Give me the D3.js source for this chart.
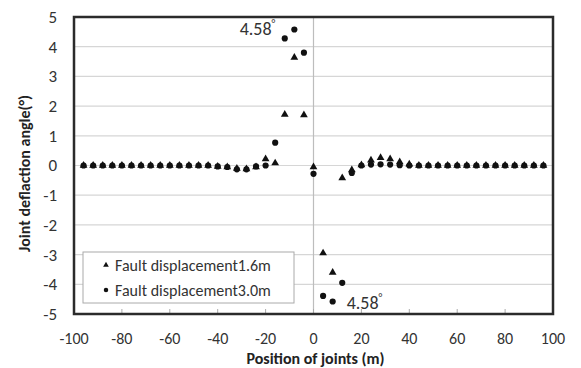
<!DOCTYPE html>
<html>
<head>
<meta charset="utf-8">
<script src="https://cdn.jsdelivr.net/npm/d3@7"></script>
<style>
  body { margin: 0; background: #fff; }
  svg text { font-family: Calibri, 'Liberation Sans', 'Open Sans', sans-serif; }
</style>
</head>
<body>
<div id="chart"></div>
<script>
// joint positions (m), one joint every 4 m
const positions = d3.range(-96, 97, 4)

// Fault displacement 1.6m (triangles)
const fault16 = [
  0, 0, 0, 0, 0, 0, 0, 0, 0, 0, 0, 0, 0, 0, // -96 .. -44
  -0.03, -0.05, -0.1, -0.12, -0.05, 0.22, 0.08, 1.72, 3.64, 1.70, // -40 .. -4
  -0.05, -2.95, -3.6, -0.42, -0.15, 0.02, 0.18, 0.26, 0.22, 0.12, 0.04, // 0 .. 40
  0, 0, 0, 0, 0, 0, 0, 0, 0, 0, 0, 0, 0, 0 // 44 .. 96
]

// Fault displacement 3.0m (circles)
const fault30 = [
  0, 0, 0, 0, 0, 0, 0, 0, 0, 0, 0, 0, 0, 0,
  -0.03, -0.05, -0.13, -0.13, -0.03, 0.0, 0.77, 4.28, 4.58, 3.80,
  -0.28, -4.39, -4.58, -3.95, -0.25, 0.0, 0.03, 0.04, 0.03, 0.01, 0,
  0, 0, 0, 0, 0, 0, 0, 0, 0, 0, 0, 0, 0, 0
]

const seriesNames = ['Fault displacement1.6m', 'Fault displacement3.0m']
const xTicks = d3.range(-100, 101, 20)
const yTicks = d3.range(-5, 6, 1)

const width = 581
const height = 368
const margin = { left: 74, right: 28, top: 17, bottom: 54 }

const svg = d3.select('#chart')
  .append('svg')
  .attr('width', width)
  .attr('height', height)

const x = d3.scaleLinear().domain([-100, 100]).range([margin.left, width - margin.right])
const y = d3.scaleLinear().domain([-5, 5]).range([height - margin.bottom, margin.top])

// horizontal gridlines
svg.append('g')
  .selectAll('line')
  .data(yTicks)
  .enter()
  .append('line')
  .attr('x1', x(-100))
  .attr('x2', x(100))
  .attr('y1', d => y(d))
  .attr('y2', d => y(d))
  .style('stroke', '#d6d6d6')
  .style('stroke-width', 1.2)

// vertical axis line at x = 0
svg.append('line')
  .attr('x1', x(0))
  .attr('x2', x(0))
  .attr('y1', y(5))
  .attr('y2', y(-5))
  .style('stroke', '#bdbdbd')
  .style('stroke-width', 1.2)

// small tick marks along the bottom
svg.append('g')
  .selectAll('line')
  .data(xTicks)
  .enter()
  .append('line')
  .attr('x1', d => x(d))
  .attr('x2', d => x(d))
  .attr('y1', y(-5))
  .attr('y2', y(-5) - 5)
  .style('stroke', '#aaa')
  .style('stroke-width', 1)

// plot border
svg.append('rect')
  .attr('x', x(-100))
  .attr('y', y(5))
  .attr('width', x(100) - x(-100))
  .attr('height', y(-5) - y(5))
  .style('fill', 'none')
  .style('stroke', '#2b2b2b')
  .style('stroke-width', 2.5)

// tick labels
svg.append('g')
  .selectAll('text')
  .data(yTicks)
  .enter()
  .append('text')
  .attr('x', 57)
  .attr('y', d => y(d))
  .attr('dy', '0.35em')
  .attr('text-anchor', 'end')
  .attr('font-size', 17)
  .attr('fill', '#333')
  .text(d => d)

svg.append('g')
  .selectAll('text')
  .data(xTicks)
  .enter()
  .append('text')
  .attr('x', d => x(d))
  .attr('y', 338)
  .attr('dy', '0.35em')
  .attr('text-anchor', 'middle')
  .attr('font-size', 16)
  .attr('fill', '#333')
  .text(d => d)

// axis titles
svg.append('text')
  .attr('x', (x(-100) + x(100)) / 2 + 2)
  .attr('y', 358)
  .attr('dy', '0.35em')
  .attr('text-anchor', 'middle')
  .attr('font-size', 16)
  .attr('font-weight', 'bold')
  .attr('fill', '#222')
  .text('Position of joints (m)')

svg.append('text')
  .attr('transform', 'translate(24,' + (y(0) + 8) + ') rotate(-90)')
  .attr('dy', '0.35em')
  .attr('text-anchor', 'middle')
  .attr('font-size', 16)
  .attr('font-weight', 'bold')
  .attr('fill', '#222')
  .text('Joint deflaction angle(°)')

const tri = d3.symbol().type(d3.symbolTriangle).size(26)
const dot = d3.symbol().type(d3.symbolCircle).size(30)

// series 1.6m
svg.append('g')
  .selectAll('path')
  .data(positions.map((p, i) => [p, fault16[i]]))
  .enter()
  .append('path')
  .attr('d', tri)
  .attr('transform', d => 'translate(' + x(d[0]) + ',' + y(d[1]) + ')')
  .style('fill', '#111')

// series 3.0m
svg.append('g')
  .selectAll('path')
  .data(positions.map((p, i) => [p, fault30[i]]))
  .enter()
  .append('path')
  .attr('d', dot)
  .attr('transform', d => 'translate(' + x(d[0]) + ',' + y(d[1]) + ')')
  .style('fill', '#111')

// peak annotations
const peaks = [[-8, 4.58, 'end', -19, 6], [8, -4.58, 'start', 14, 7]]
peaks.forEach(p => {
  const t = svg.append('text')
    .attr('x', x(p[0]) + p[3])
    .attr('y', y(p[1]) + p[4])
    .attr('text-anchor', p[2])
    .attr('font-size', 18)
    .attr('fill', '#333')
  t.append('tspan').text('4.58')
  t.append('tspan').attr('font-size', 11).attr('dy', -8).text('°')
})

// legend
const legend = svg.append('g')
legend.append('rect')
  .attr('x', 83)
  .attr('y', 252)
  .attr('width', 211)
  .attr('height', 51)
  .style('fill', '#fff')
  .style('stroke', '#aaa')
  .style('stroke-width', 1)

const small = [d3.symbol().type(d3.symbolTriangle).size(14), d3.symbol().type(d3.symbolCircle).size(16)]
seriesNames.forEach((name, i) => {
  const ly = 265 + i * 25
  legend.append('path')
    .attr('d', small[i])
    .attr('transform', 'translate(106,' + ly + ')')
    .style('fill', '#111')
  legend.append('text')
    .attr('x', 115)
    .attr('y', ly)
    .attr('dy', '0.35em')
    .attr('font-size', 16)
    .attr('fill', '#333')
    .text(name)
})
</script>
</body>
</html>
